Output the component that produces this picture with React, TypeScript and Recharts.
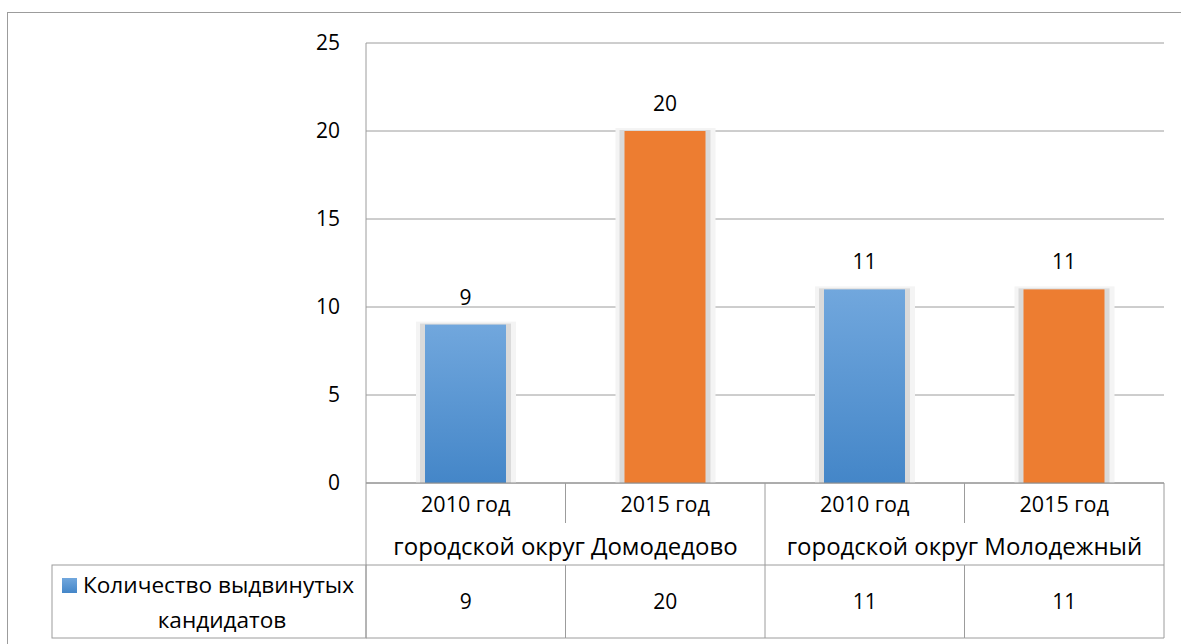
import React from "react";
import { BarChart, Bar, XAxis, YAxis, CartesianGrid, LabelList, Cell } from "recharts";

const years = ["2010 год", "2015 год", "2010 год", "2015 год"];
const districts = [
  "городской округ Домодедово",
  "городской округ Домодедово",
  "городской округ Молодежный",
  "городской округ Молодежный",
];
const candidates = [9, 20, 11, 11];
const yTicks = [0, 5, 10, 15, 20, 25];
const seriesName = ["Количество выдвинутых", "кандидатов"];

const data = years.map((year, i) => ({
  key: `${i}`,
  year,
  district: districts[i],
  candidates: candidates[i],
}));

const W = 1181;
const H = 644;
const PLOT_LEFT = 366;
const PLOT_RIGHT = 1164;
const PLOT_TOP = 43;
const PLOT_BOTTOM = 483;
const TABLE_H = 155;
const BAND = (PLOT_RIGHT - PLOT_LEFT) / data.length;
const LINE = "#9c9c9c";
const FONT = "'Open Sans', sans-serif";
const FS = 21;

const fillFor = (year: string) => (year.startsWith("2010") ? "url(#blueBar)" : "#ED7D31");

function ShadowBar(props: any) {
  const { x, y, width, height, fill } = props;
  if (!height || height <= 0) return null;
  return (
    <g>
      <rect x={x - 9} y={y - 3} width={width + 19} height={height + 3} fill="#f4f4f4" />
      <rect x={x - 5} y={y - 1} width={width + 10} height={height + 1} fill="#dadada" />
      <rect x={x} y={y} width={width} height={height} fill={fill} />
    </g>
  );
}

function TableTick(props: any) {
  const { x, y, payload } = props;
  const i: number = payload.index;
  const left = x - BAND / 2;
  const right = x + BAND / 2;
  const rowYear = 40;
  const rowGroup = 82;
  const groupEnd = districts[i] !== districts[i + 1];
  const groupStart = i === 0 || districts[i] !== districts[i - 1];
  let span = 0;
  if (groupStart) {
    while (districts[i + span] === districts[i]) span++;
  }
  const textProps = { fontFamily: FONT, fill: "#000", dominantBaseline: "central" as const };
  return (
    <g>
      <text x={x} y={y + 20} textAnchor="middle" fontSize={21.5} {...textProps}>
        {years[i]}
      </text>
      {groupStart && (
        <text x={left + (span * BAND) / 2} y={y + 62} textAnchor="middle" fontSize={24} {...textProps}>
          {districts[i]}
        </text>
      )}
      <text x={x} y={y + 118} textAnchor="middle" fontSize={FS} {...textProps}>
        {candidates[i]}
      </text>
      {i === 0 && <line x1={left} x2={left} y1={y} y2={y + TABLE_H} stroke={LINE} />}
      {groupEnd ? (
        <line x1={right} x2={right} y1={y} y2={y + TABLE_H} stroke={LINE} />
      ) : (
        <g>
          <line x1={right} x2={right} y1={y} y2={y + rowYear} stroke={LINE} />
          <line x1={right} x2={right} y1={y + rowGroup} y2={y + TABLE_H} stroke={LINE} />
        </g>
      )}
      <line x1={left} x2={right} y1={y + rowGroup} y2={y + rowGroup} stroke={LINE} />
      <line x1={left} x2={right} y1={y + TABLE_H} y2={y + TABLE_H} stroke={LINE} />
      {i === 0 && (
        <g>
          <rect x={52} y={y + rowGroup} width={left - 52} height={TABLE_H - rowGroup} fill="none" stroke={LINE} />
          <rect x={62} y={y + 95} width={15} height={15} fill="url(#blueBar)" />
          <text x={83} y={y + 101} textAnchor="start" fontSize={22.6} {...textProps}>
            {seriesName[0]}
          </text>
          <text x={222} y={y + 136} textAnchor="middle" fontSize={22.6} {...textProps}>
            {seriesName[1]}
          </text>
        </g>
      )}
    </g>
  );
}

export default function App() {
  return (
    <div style={{ position: "absolute", left: 0, top: 0, width: W, height: H, background: "#fff" }}>
      <div
        style={{
          position: "absolute",
          left: 7,
          top: 12,
          width: W - 7,
          height: H - 12,
          borderLeft: `1px solid ${LINE}`,
          borderTop: `1px solid ${LINE}`,
          boxSizing: "border-box",
        }}
      />
      <div style={{ position: "absolute", left: 0, top: 0 }}>
        <BarChart
          width={W}
          height={H}
          data={data}
          margin={{ top: PLOT_TOP, right: W - PLOT_RIGHT, bottom: H - PLOT_BOTTOM - TABLE_H, left: 300 }}
        >
          <defs>
            <linearGradient id="blueBar" x1="0" y1="0" x2="0" y2="1">
              <stop offset="0%" stopColor="#71a7dd" />
              <stop offset="100%" stopColor="#4486c8" />
            </linearGradient>
          </defs>
          <CartesianGrid vertical={false} stroke={LINE} strokeDasharray="" />
          <XAxis
            dataKey="key"
            height={TABLE_H}
            axisLine={{ stroke: "#8c8c8c" }}
            tickLine={false}
            tickSize={0}
            tickMargin={0}
            interval={0}
            tick={<TableTick />}
          />
          <YAxis
            width={PLOT_LEFT - 300}
            domain={[0, 25]}
            ticks={yTicks}
            axisLine={{ stroke: LINE }}
            tickLine={false}
            tickSize={0}
            tickMargin={26}
            tick={{ fontFamily: FONT, fontSize: FS, fill: "#000" }}
          />
          <Bar dataKey="candidates" barSize={81} isAnimationActive={false} shape={<ShadowBar />}>
            {data.map((d) => (
              <Cell key={d.key} fill={fillFor(d.year)} />
            ))}
            <LabelList
              dataKey="candidates"
              position="top"
              offset={20}
              style={{ fontFamily: FONT, fontSize: FS, fill: "#000" }}
            />
          </Bar>
        </BarChart>
      </div>
    </div>
  );
}
